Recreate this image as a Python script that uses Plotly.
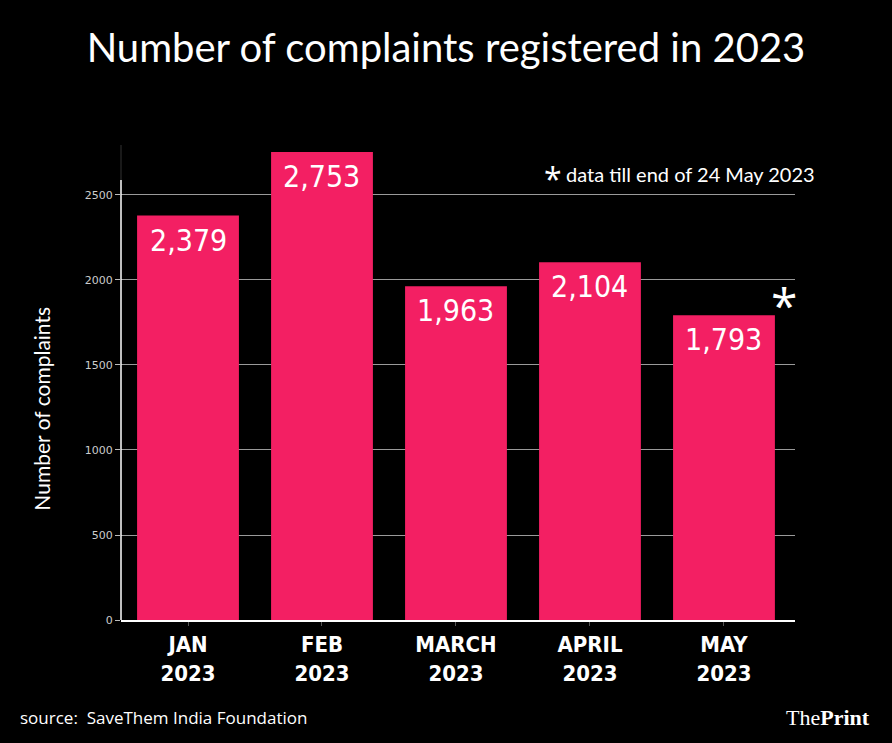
import plotly.graph_objects as go

months = ["JAN<br>2023", "FEB<br>2023", "MARCH<br>2023", "APRIL<br>2023", "MAY<br>2023"]
complaints = [2379, 2753, 1963, 2104, 1793]
value_labels = ["2,379", "2,753", "1,963", "2,104", "1,793"]
y_ticks = [0, 500, 1000, 1500, 2000, 2500]

BAR = "#f31f63"
COND = "DejaVu Sans Condensed, sans-serif"

fig = go.Figure()
fig.add_trace(go.Bar(
    x=months, y=complaints, marker_color=BAR, marker_line_width=0,
    width=0.76, hoverinfo="skip",
))

for m, v, t in zip(months, complaints, value_labels):
    fig.add_annotation(x=m, y=v, text=t, showarrow=False, yanchor="top",
                       yshift=-5, font=dict(family=COND, size=30, color="white"))

# asterisk for partial May data
fig.add_annotation(x=months[-1], y=complaints[-1], text="*", showarrow=False,
                   xanchor="center", yanchor="bottom", xshift=60, yshift=-24,
                   font=dict(family="Open Sans, sans-serif", size=48, color="white"))

fig.add_annotation(xref="paper", yref="paper", x=(553 - 121) / 674, y=1.0, xanchor="center",
                   yanchor="middle", yshift=-33, showarrow=False, text="*",
                   font=dict(family="Open Sans, sans-serif", size=32, color="white"))
fig.add_annotation(xref="paper", yref="paper", x=(564 - 121) / 674, y=1.0, xanchor="left",
                   yanchor="middle", yshift=-29, showarrow=False,
                   text="data till end of 24 May 2023",
                   font=dict(family="Lato, Open Sans, sans-serif", size=20, color="white"))

fig.add_annotation(xref="paper", yref="paper", x=(42 - 121) / 674, y=0.445, textangle=-90,
                   xanchor="center", showarrow=False, text="Number of complaints",
                   font=dict(family="Lato, Open Sans, sans-serif", size=21, color="white"))

fig.add_annotation(xref="paper", yref="paper", x=(18 - 121) / 674, y=-0.205, xanchor="left",
                   yanchor="middle", showarrow=False,
                   text="source:  SaveThem India Foundation",
                   font=dict(family="Open Sans, sans-serif", size=17, color="white"))

fig.add_annotation(xref="paper", yref="paper", x=(872 - 121) / 674, y=-0.205, xanchor="right",
                   yanchor="middle", showarrow=False, text="The<b>Print</b>",
                   font=dict(family="Liberation Serif, serif", size=22, color="white"))

# y axis line
fig.add_shape(type="line", xref="paper", yref="y", x0=0, x1=0, y0=-35, y1=2588,
              line=dict(color="white", width=1.5))
fig.add_shape(type="line", xref="paper", yref="y", x0=0, x1=0, y0=2588, y1=2794,
              line=dict(color="#333", width=1))

fig.update_layout(
    width=892, height=743,
    paper_bgcolor="black", plot_bgcolor="black",
    margin=dict(l=121, r=97, t=145, b=123),
    showlegend=False,
    title=dict(text="Number of complaints registered in 2023", x=0.5, xanchor="center",
               y=0.935, yanchor="middle",
               font=dict(family="Lato, Open Sans, sans-serif", size=40, color="white")),
    xaxis=dict(range=[-0.5, 4.53], showline=True, linecolor="white", linewidth=1.5,
               ticks="outside", ticklen=4, tickcolor="#555", showgrid=False,
               tickfont=dict(family=COND, size=22, color="white", weight="bold")),
    yaxis=dict(range=[0, 2794], tickvals=y_ticks, showline=False, zeroline=False,
               ticks="outside", ticklen=5, tickcolor="#bbb",
               gridcolor="#9a9a9a", gridwidth=1,
               tickfont=dict(family="DejaVu Sans, sans-serif", size=11, color="#cccccc")),
)

fig.write_html("out.html", config={"displayModeBar": False},
               post_script="document.body.style.margin='0';document.body.style.background='black';")
